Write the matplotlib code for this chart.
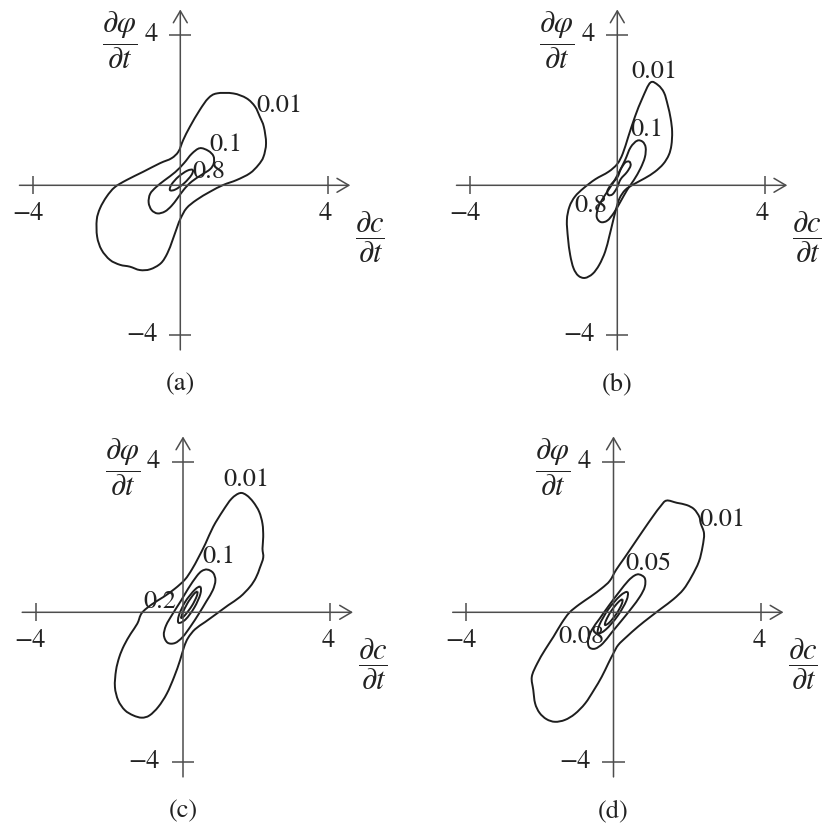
import matplotlib
matplotlib.use("Agg")
import matplotlib.pyplot as plt
import numpy as np
from matplotlib.path import Path
from matplotlib.patches import PathPatch

plt.rcParams['font.family'] = ['STIXGeneral', 'DejaVu Serif']
plt.rcParams['mathtext.fontset'] = 'stix'

# ---- contour lines of the joint pdf, one set per panel ----
# panel (a)
a_outer_x = [0.99, 1.44, 1.80, 2.03, 2.16, 2.27, 2.33, 2.26, 2.12, 1.89, 1.53, 1.17, 0.81, 0.44,
             0.17, 0.01, -0.08, -0.21, -0.35, -0.53, -0.82, -1.10, -1.37, -1.64, -1.91, -2.14,
             -2.26, -2.27, -2.18, -2.00, -1.78, -1.46, -1.01, -0.55, -0.24, -0.05, 0.08, 0.26,
             0.53, 0.76]
a_outer_y = [2.45, 2.45, 2.32, 2.10, 1.83, 1.56, 1.12, 0.76, 0.54, 0.32, 0.14, 0.01, -0.17, -0.39,
             -0.61, -0.88, -1.10, -1.46, -1.81, -2.08, -2.24, -2.26, -2.17, -2.12, -1.99, -1.72,
             -1.37, -0.92, -0.61, -0.30, -0.05, 0.14, 0.36, 0.59, 0.72, 0.90, 1.21, 1.56,
             2.01, 2.32]
a_mid_x = [0.53, 0.76, 0.90, 0.91, 0.81, 0.58, 0.31, 0.10, -0.08, -0.24, -0.42, -0.62, -0.78,
           -0.86, -0.82, -0.66, -0.42, -0.14, 0.10, 0.31]
a_mid_y = [0.99, 0.92, 0.78, 0.59, 0.43, 0.28, 0.10, -0.11, -0.35, -0.55, -0.70, -0.75, -0.66,
           -0.46, -0.23, -0.05, 0.14, 0.35, 0.59, 0.84]
a_inner_x = [0.34, 0.19, -0.05, -0.24, -0.28, -0.13, 0.11, 0.30]
a_inner_y = [0.41, 0.39, 0.23, 0.02, -0.13, -0.11, 0.06, 0.27]

# panel (b)
b_outer_x = [0.90, 1.11, 1.27, 1.37, 1.45, 1.49, 1.47, 1.40, 1.25, 1.02, 0.75, 0.45, 0.22, 0.06,
             -0.04, -0.13, -0.22, -0.33, -0.49, -0.67, -0.88, -1.06, -1.19, -1.28, -1.34, -1.37,
             -1.30, -1.15, -0.92, -0.60, -0.24, 0.00, 0.15, 0.30, 0.48, 0.68]
b_outer_y = [2.74, 2.67, 2.47, 2.14, 1.78, 1.43, 1.07, 0.81, 0.57, 0.36, 0.19, 0.03, -0.12, -0.35,
             -0.66, -1.01, -1.37, -1.77, -2.12, -2.36, -2.47, -2.41, -2.21, -1.86, -1.41, -0.93,
             -0.57, -0.30, -0.08, 0.16, 0.36, 0.57, 0.85, 1.30, 1.83, 2.32]
b_mid_x = [0.54, 0.69, 0.77, 0.75, 0.63, 0.45, 0.27, 0.09, -0.09, -0.27, -0.45, -0.56, -0.51,
           -0.36, -0.15, 0.03, 0.21, 0.36]
b_mid_y = [1.19, 1.16, 1.01, 0.75, 0.45, 0.14, -0.12, -0.43, -0.73, -0.94, -0.98, -0.84, -0.57,
           -0.30, 0.01, 0.32, 0.67, 1.01]
b_inner_x = [0.33, 0.22, 0.10, 0.00, -0.17, -0.27, -0.24, -0.13, -0.01, 0.09, 0.26, 0.36]
b_inner_y = [0.63, 0.61, 0.44, 0.21, 0.02, -0.15, -0.26, -0.24, -0.07, 0.16, 0.35, 0.52]

# panel (c)
c_outer_x = [1.55, 1.73, 1.91, 2.07, 2.16, 2.18, 2.16, 2.18, 2.09, 1.98, 1.82, 1.55, 1.23, 0.91,
             0.60, 0.33, 0.14, 0.03, -0.08, -0.24, -0.44, -0.67, -0.91, -1.12, -1.35, -1.58,
             -1.76, -1.85, -1.82, -1.73, -1.60, -1.42, -1.24, -1.12, -0.85, -0.53, -0.22, 0.05,
             0.24, 0.42, 0.61, 0.82, 1.08, 1.32]
c_outer_y = [3.18, 3.12, 2.94, 2.68, 2.36, 2.01, 1.70, 1.46, 1.19, 0.92, 0.68, 0.41, 0.19, -0.04,
             -0.26, -0.45, -0.68, -0.92, -1.28, -1.72, -2.17, -2.52, -2.75, -2.81, -2.75, -2.61,
             -2.35, -1.99, -1.55, -1.19, -0.88, -0.57, -0.30, -0.02, 0.21, 0.41, 0.63, 0.87,
             1.14, 1.46, 1.83, 2.28, 2.70, 3.03]
c_mid_x = [0.66, 0.82, 0.88, 0.81, 0.64, 0.43, 0.21, -0.01, -0.22, -0.42, -0.52, -0.46, -0.28,
           -0.06, 0.14, 0.37, 0.51]
c_mid_y = [1.14, 1.05, 0.85, 0.59, 0.30, -0.04, -0.37, -0.66, -0.82, -0.81, -0.61, -0.35, -0.04,
           0.30, 0.63, 0.96, 1.10]
c_inner_x = [0.47, 0.32, 0.06, -0.11, -0.12, 0.07, 0.31, 0.47]
c_inner_y = [0.68, 0.60, 0.28, -0.08, -0.28, -0.19, 0.13, 0.48]
c_core_x = [0.39, 0.29, 0.12, -0.01, -0.05, 0.05, 0.24, 0.37]
c_core_y = [0.55, 0.48, 0.24, -0.02, -0.15, -0.08, 0.17, 0.42]

# panel (d)
d_outer_x = [1.44, 1.72, 1.99, 2.19, 2.33, 2.37, 2.46, 2.42, 2.32, 2.12, 1.90, 1.63, 1.31, 0.99,
             0.67, 0.36, 0.13, 0.00, -0.14, -0.32, -0.53, -0.77, -1.05, -1.32, -1.59, -1.82,
             -2.01, -2.13, -2.18, -2.22, -2.07, -1.86, -1.63, -1.41, -1.20, -0.93, -0.62, -0.32,
             -0.10, 0.07, 0.29, 0.54, 0.81, 1.08, 1.28]
d_outer_y = [2.98, 2.92, 2.86, 2.75, 2.55, 2.37, 2.10, 1.75, 1.35, 0.95, 0.61, 0.35, 0.11, -0.13,
             -0.38, -0.65, -0.87, -1.09, -1.36, -1.72, -2.07, -2.43, -2.71, -2.87, -2.92, -2.85,
             -2.68, -2.43, -2.07, -1.72, -1.36, -1.00, -0.65, -0.29, -0.01, 0.21, 0.42, 0.64,
             0.84, 1.13, 1.44, 1.80, 2.19, 2.57, 2.83]
d_mid_x = [0.70, 0.85, 0.85, 0.72, 0.49, 0.22, -0.05, -0.29, -0.50, -0.66, -0.69, -0.59, -0.37,
           -0.11, 0.16, 0.40, 0.57]
d_mid_y = [1.01, 0.91, 0.68, 0.42, 0.11, -0.22, -0.54, -0.83, -0.97, -0.93, -0.74, -0.47, -0.16,
           0.20, 0.55, 0.84, 0.98]
d_inner_x = [0.38, 0.18, -0.14, -0.38, -0.42, -0.21, 0.11, 0.35]
d_inner_y = [0.54, 0.44, 0.08, -0.33, -0.56, -0.46, -0.10, 0.31]
d_core_x = [0.24, 0.13, -0.06, -0.20, -0.23, -0.11, 0.08, 0.22]
d_core_y = [0.34, 0.27, 0.04, -0.21, -0.34, -0.27, -0.04, 0.21]

# contour level labels: text, x, y
a_labels = [('0.01', 2.70, 2.11), ('0.1', 1.24, 1.07), ('0.8', 0.79, 0.36)]
b_labels = [('0.01', 1.00, 3.03), ('0.1', 0.80, 1.47), ('0.8', -0.71, -0.55)]
c_labels = [('0.01', 1.73, 3.52), ('0.1', 0.96, 1.47), ('0.2', -0.64, 0.27)]
d_labels = [('0.08', -0.88, -0.66), ('0.05', 0.95, 1.29), ('0.01', 2.97, 2.45)]

ticks = [-4, 4]
tick_text = ['\u22124', '4']
captions = ['(a)', '(b)', '(c)', '(d)']

# ---- layout (pixels) ----
FIG_W, FIG_H = 822, 832
SX, SY = 36.8, 37.5           # pixels per unit
XLIM = (-4.5, 4.8)
YLIM = (-4.5, 4.8)
origins = [(180.3, 185.3), (617.3, 185.3), (183.0, 612.3), (613.5, 612.3)]

AXIS_C = '#4d4d4d'
LINE_C = '#1e1e1e'
TEXT_C = '#222222'
FS = 19


def smooth_closed(xs, ys):
    # closed Catmull-Rom curve through the points, as cubic Bezier segments
    p = np.column_stack([xs, ys])
    n = len(p)
    verts = [p[0]]
    codes = [Path.MOVETO]
    for i in range(n):
        p0, p1, p2, p3 = p[i - 1], p[i], p[(i + 1) % n], p[(i + 2) % n]
        verts += [p1 + (p2 - p0) / 6, p2 - (p3 - p1) / 6, p2]
        codes += [Path.CURVE4] * 3
    return Path(verts, codes)


def panel_axes(fig, ox, oy):
    left = ox + XLIM[0] * SX
    top = oy - YLIM[1] * SY
    w = (XLIM[1] - XLIM[0]) * SX
    h = (YLIM[1] - YLIM[0]) * SY
    ax = fig.add_axes([left / FIG_W, 1 - (top + h) / FIG_H, w / FIG_W, h / FIG_H])
    ax.set_xlim(*XLIM)
    ax.set_ylim(*YLIM)
    ax.axis('off')
    return ax


def draw_frame(ax, caption):
    arrow = dict(arrowstyle='->,head_length=0.85,head_width=0.5', lw=1.1,
                 color=AXIS_C, shrinkA=0, shrinkB=0, mutation_scale=10)
    ax.annotate('', xy=(4.62, 0), xytext=(-4.37, 0), arrowprops=arrow)
    ax.annotate('', xy=(0, 4.69), xytext=(0, -4.39), arrowprops=arrow)
    ax.vlines(ticks, -0.24, 0.24, color=AXIS_C, lw=1.1)
    ax.hlines(ticks, -0.3, 0.3, color=AXIS_C, lw=1.1)
    for t, s in zip(ticks, tick_text):
        ax.text(t - 0.1 + 0.05 * np.sign(t), -0.76, s, ha='center', va='center',
                fontsize=FS, color=TEXT_C)
        ax.text(-0.62, t + 0.02, s, ha='right', va='center', fontsize=FS, color=TEXT_C)
    ax.text(5.15, -1.39, r'$\dfrac{\partial c}{\partial t}$', ha='center', va='center',
            fontsize=22, color=TEXT_C)
    ax.text(-1.64, 3.87, r'$\dfrac{\partial \varphi}{\partial t}$', ha='center', va='center',
            fontsize=22, color=TEXT_C)
    ax.text(0, -5.3, caption, ha='center', va='center', fontsize=FS, color=TEXT_C)


panels = [
    ([(a_outer_x, a_outer_y), (a_mid_x, a_mid_y), (a_inner_x, a_inner_y)], a_labels),
    ([(b_outer_x, b_outer_y), (b_mid_x, b_mid_y), (b_inner_x, b_inner_y)], b_labels),
    ([(c_outer_x, c_outer_y), (c_mid_x, c_mid_y), (c_inner_x, c_inner_y),
      (c_core_x, c_core_y)], c_labels),
    ([(d_outer_x, d_outer_y), (d_mid_x, d_mid_y), (d_inner_x, d_inner_y),
      (d_core_x, d_core_y)], d_labels),
]

fig = plt.figure(figsize=(FIG_W / 100, FIG_H / 100), dpi=100)
fig.patch.set_facecolor('white')

for (ox, oy), caption, (curves, labels) in zip(origins, captions, panels):
    ax = panel_axes(fig, ox, oy)
    draw_frame(ax, caption)
    for xs, ys in curves:
        ax.add_patch(PathPatch(smooth_closed(xs, ys), fill=False, lw=1.4,
                               ec=LINE_C, joinstyle='round'))
    for s, x, y in labels:
        ax.text(x, y, s, ha='center', va='center', fontsize=FS, color=TEXT_C)

fig.savefig('out.png', dpi=100)
